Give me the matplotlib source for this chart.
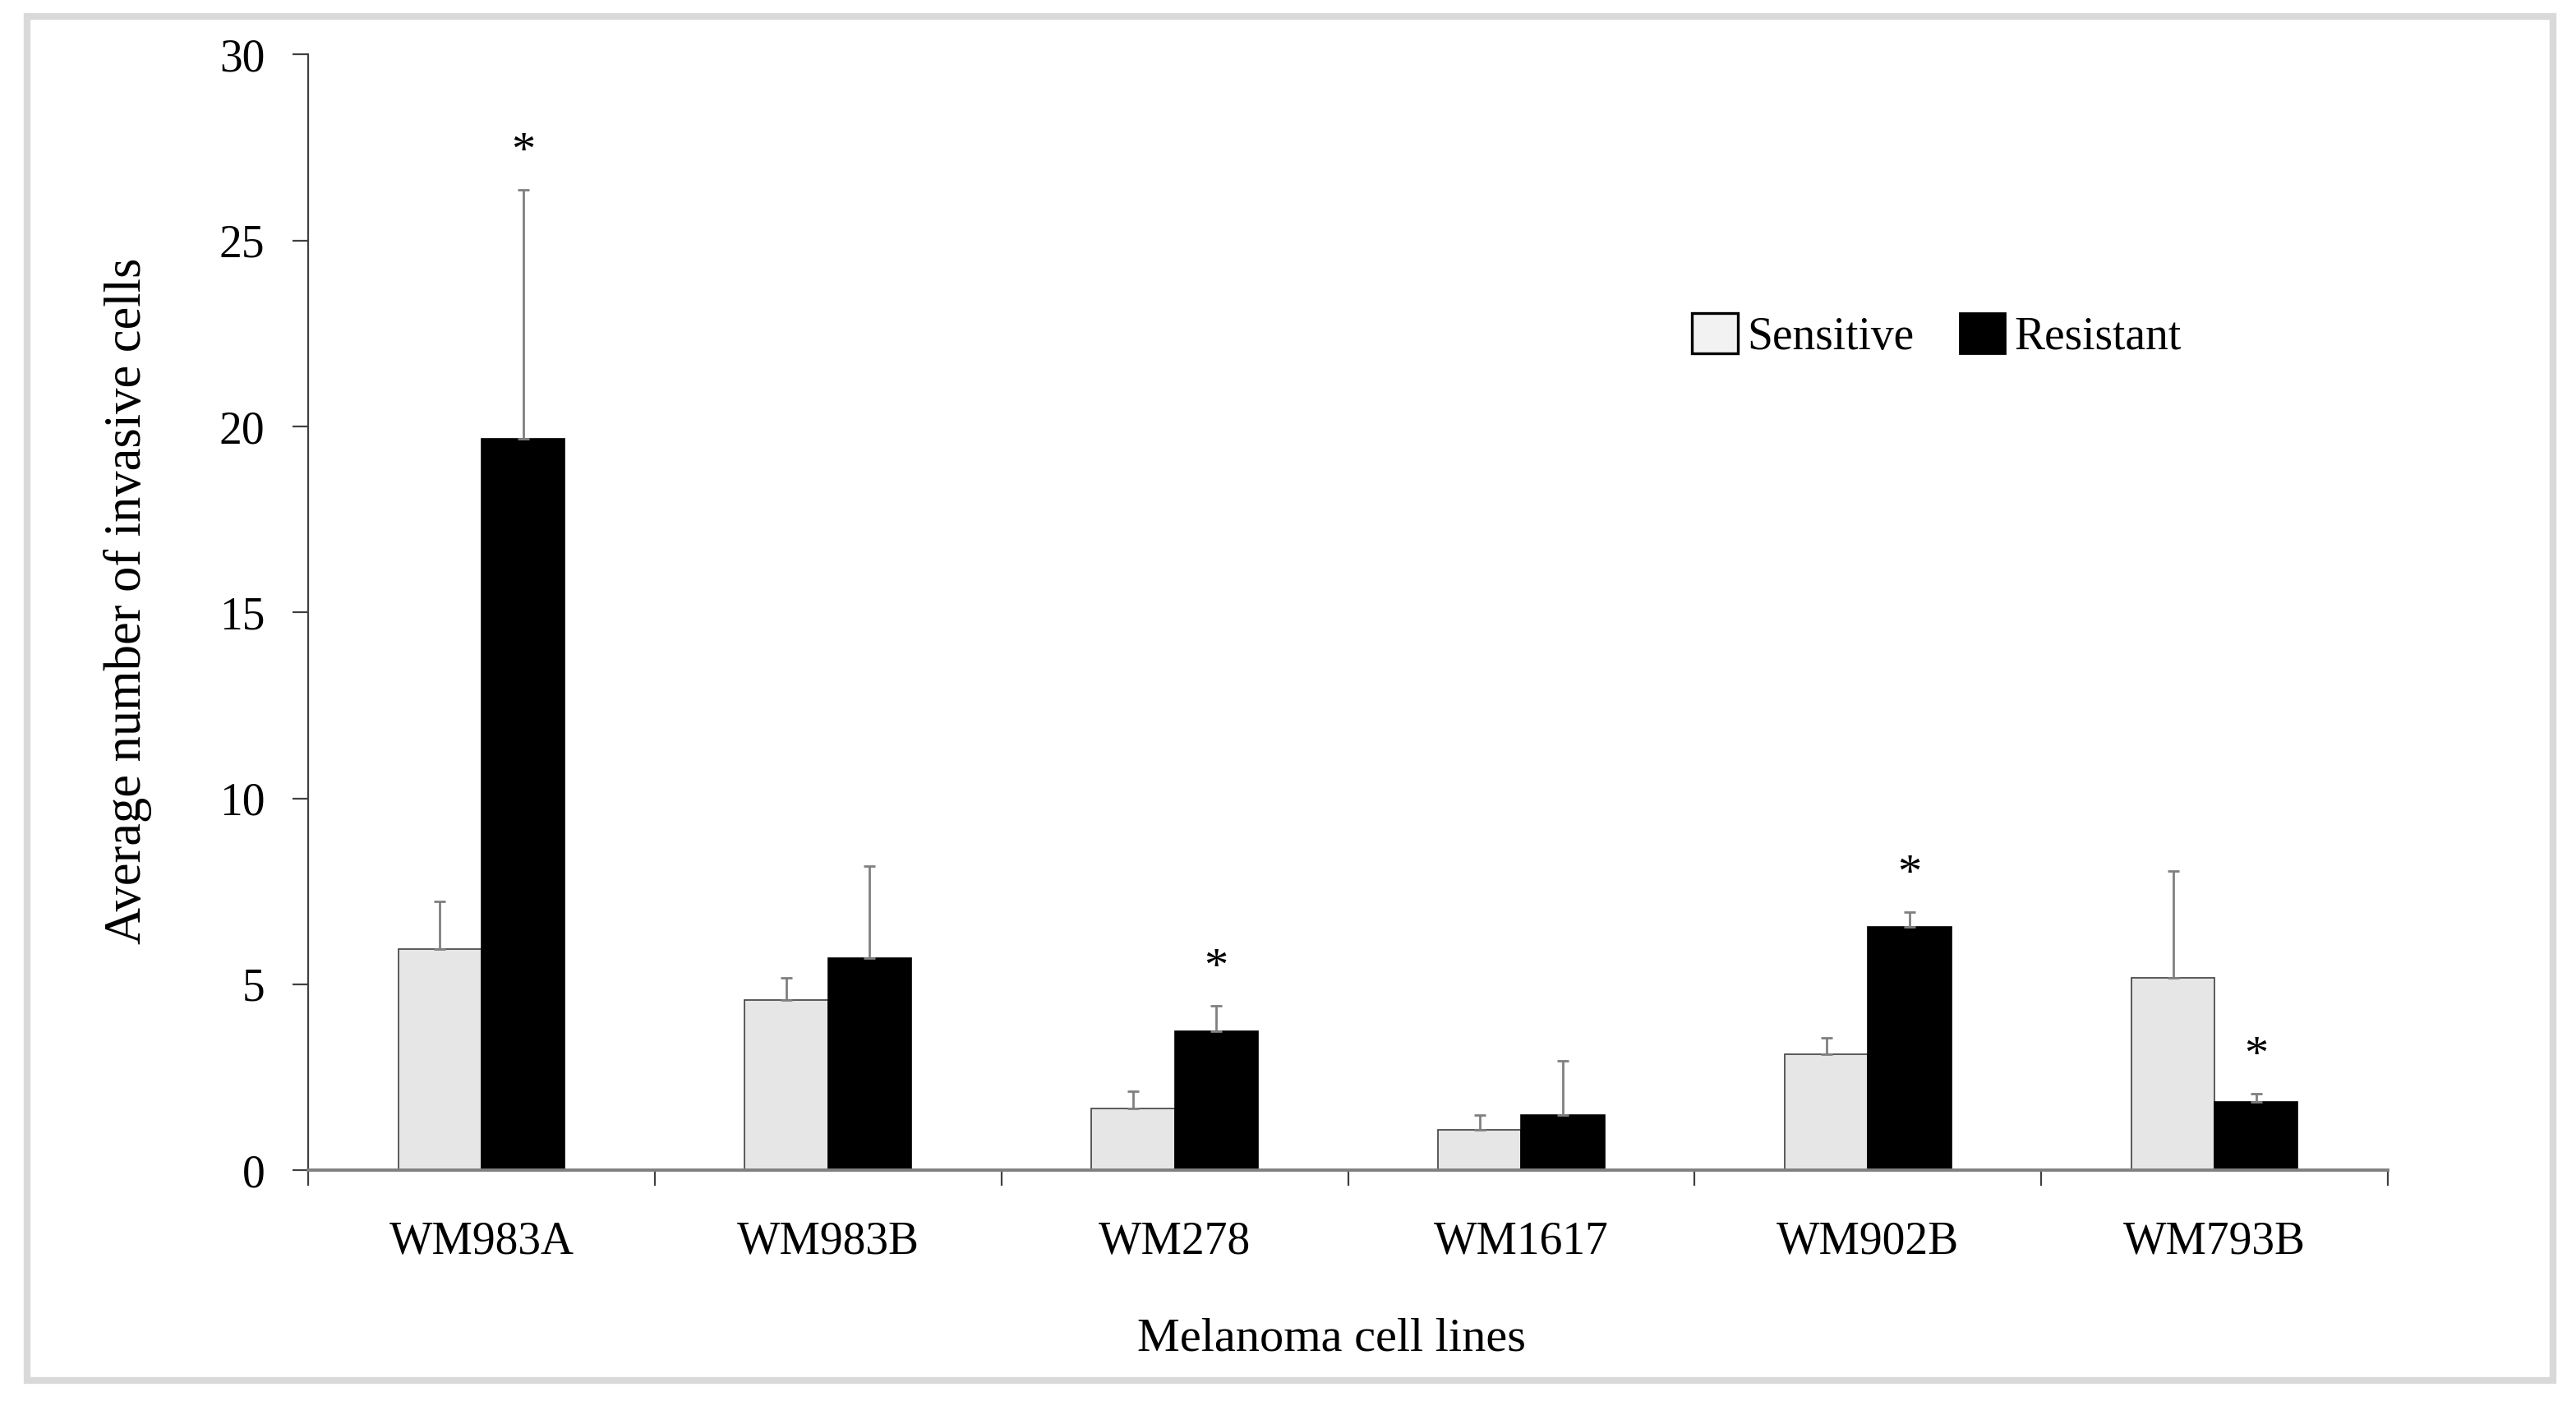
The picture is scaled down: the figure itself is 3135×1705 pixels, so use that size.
import matplotlib
matplotlib.use("Agg")
import matplotlib.pyplot as plt
from matplotlib.patches import Rectangle, Patch
import numpy as np

# Values
cell_lines = ["WM983A", "WM983B", "WM278", "WM1617", "WM902B", "WM793B"]
sensitive = [5.94, 4.58, 1.66, 1.09, 3.12, 5.17]
sensitive_err = [1.28, 0.60, 0.47, 0.38, 0.44, 2.88]
resistant = [19.66, 5.70, 3.74, 1.48, 6.55, 1.83]
resistant_err = [6.71, 2.47, 0.67, 1.45, 0.39, 0.22]
resistant_sig = [True, False, True, False, True, True]
sensitive_sig = [False, False, False, False, False, False]

plt.rcParams['font.family'] = ['Liberation Serif', 'DejaVu Serif']

fig = plt.figure(figsize=(15.675, 8.525), dpi=200)
ax = fig.add_axes([0.1196, 0.1648, 0.8074, 0.7962])

x = np.arange(len(cell_lines))
w = 0.24
err_kw = dict(ecolor='#808080', elinewidth=1.0, capsize=2.5, capthick=1.0)

ax.bar(x - w / 2, sensitive, w, color='#e6e6e6', edgecolor='#404040', linewidth=0.6,
       yerr=[np.zeros(len(x)), sensitive_err], error_kw=err_kw, zorder=2)
ax.bar(x + w / 2, resistant, w, color='black', edgecolor='black', linewidth=0.6,
       yerr=[np.zeros(len(x)), resistant_err], error_kw=err_kw, zorder=2)

# significance stars
for i in range(len(x)):
    if resistant_sig[i]:
        ax.text(x[i] + w / 2, resistant[i] + resistant_err[i] + 1.0, '*',
                ha='center', va='center', fontsize=21)
    if sensitive_sig[i]:
        ax.text(x[i] - w / 2, sensitive[i] + sensitive_err[i] + 1.0, '*',
                ha='center', va='center', fontsize=21)

ax.set_xlim(-0.5, len(x) - 0.5)
ax.set_ylim(0, 30)
ax.set_yticks(range(0, 31, 5))
ax.set_xticks(x)
ax.set_xticklabels(cell_lines)
ax.set_xticks(np.arange(-0.5, len(x), 1.0), minor=True)

ax.tick_params(axis='x', which='major', length=0, pad=22, labelsize=20)
ax.tick_params(axis='x', which='minor', length=7, width=0.8, color='#404040', direction='out')
ax.tick_params(axis='y', length=7, width=0.8, color='#404040', pad=12, labelsize=20)

for side in ['top', 'right']:
    ax.spines[side].set_visible(False)
ax.spines['left'].set_color('#404040')
ax.spines['left'].set_linewidth(0.8)
ax.spines['bottom'].set_color('#808080')
ax.spines['bottom'].set_linewidth(1.4)
ax.spines['bottom'].set_zorder(3)

ax.set_ylabel('Average number of invasive cells', fontsize=22.5)
ax.yaxis.set_label_coords(-0.075, 0.51)
ax.set_xlabel('Melanoma cell lines', fontsize=21, va='top')
ax.xaxis.set_label_coords(0.492, -0.1325)

handles = [Patch(facecolor='#f2f2f2', edgecolor='black', linewidth=1.2, label='Sensitive'),
           Patch(facecolor='black', edgecolor='black', label='Resistant')]
ax.legend(handles=handles, loc='center', bbox_to_anchor=(0.783, 0.748), ncol=2,
          frameon=False, fontsize=20, handlelength=1.0, handleheight=1.0,
          handletextpad=0.2, columnspacing=1.0)

# light grey frame around the whole picture
fig.patches.append(Rectangle((0.0105, 0.0147), 0.9805, 0.9735, transform=fig.transFigure,
                             fill=False, edgecolor='#d9d9d9', linewidth=3))

fig.savefig('out.png', dpi=200, facecolor='white')
